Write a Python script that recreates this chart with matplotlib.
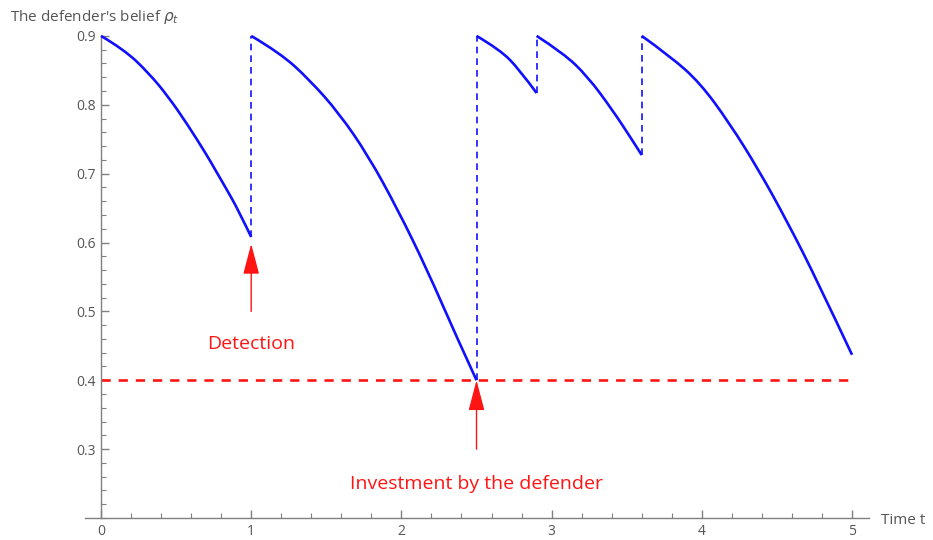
import matplotlib
matplotlib.use("Agg")
import matplotlib.pyplot as plt
from matplotlib.path import Path
from matplotlib.patches import PathPatch
from matplotlib.ticker import MultipleLocator

# Belief trajectory, one list per segment between resets
seg1_t = [0.0, 0.155, 0.318, 0.447, 0.577, 0.707, 0.770, 0.837, 0.914, 1.0]
seg1_v = [0.900, 0.880, 0.846, 0.812, 0.771, 0.726, 0.702, 0.677, 0.647, 0.608]

seg2_t = [1.0, 1.194, 1.389, 1.584, 1.779, 1.973, 2.168, 2.363, 2.5]
seg2_v = [0.900, 0.875, 0.836, 0.788, 0.726, 0.649, 0.562, 0.465, 0.400]

seg3_t = [2.5, 2.656, 2.786, 2.9]
seg3_v = [0.900, 0.880, 0.851, 0.817]

seg4_t = [2.9, 3.078, 3.240, 3.403, 3.533, 3.6]
seg4_v = [0.900, 0.875, 0.841, 0.793, 0.750, 0.727]

seg5_t = [3.6, 3.792, 3.987, 4.182, 4.377, 4.572, 4.767, 5.0]
seg5_v = [0.900, 0.870, 0.832, 0.774, 0.706, 0.629, 0.545, 0.437]

segments = [(seg1_t, seg1_v), (seg2_t, seg2_v), (seg3_t, seg3_v),
            (seg4_t, seg4_v), (seg5_t, seg5_v)]

reset_level = 0.9
threshold = 0.4
t_end = 5.0

detection_time = 1.0
investment_time = 2.5

x_ticks = [0, 1, 2, 3, 4, 5]
y_ticks = [0.3, 0.4, 0.5, 0.6, 0.7, 0.8, 0.9]

plt.rcParams["font.family"] = ["Open Sans", "DejaVu Sans"]

fig = plt.figure(figsize=(9.33, 5.40), dpi=100)
ax = fig.add_axes([85 / 933, 22 / 540, 784 / 933, 489 / 540])

blue = "#1010ff"
red = "#ff1414"
axis_gray = "#808080"
label_gray = "#555555"


def smooth_path(ts, vs):
    """Quadratic B-spline path through the segment's sample points."""
    pts = list(zip(ts, vs))
    if len(pts) < 3:
        return Path(pts)
    verts = [pts[0]]
    codes = [Path.MOVETO]
    for i in range(1, len(pts) - 1):
        end = pts[i + 1] if i == len(pts) - 2 else (
            (pts[i][0] + pts[i + 1][0]) / 2, (pts[i][1] + pts[i + 1][1]) / 2)
        verts += [pts[i], end]
        codes += [Path.CURVE3, Path.CURVE3]
    return Path(verts, codes)


# Belief curve
for ts, vs in segments:
    ax.add_patch(PathPatch(smooth_path(ts, vs), facecolor="none",
                           edgecolor=blue, lw=1.9, capstyle="butt",
                           zorder=3))

# Jumps back to the reset level
for ts, vs in segments[:-1]:
    ax.plot([ts[-1], ts[-1]], [vs[-1], reset_level], color=blue, lw=1.2,
            ls=(0, (4, 3)), zorder=2)

# Investment threshold
ax.plot([0, t_end], [threshold, threshold], color=red, lw=1.9,
        ls=(0, (3.5, 3)), zorder=2)

# Annotations
arrow_kw = dict(arrowstyle="-|>,head_length=1.9,head_width=0.5",
                color=red, lw=1.0, shrinkA=0, shrinkB=0)
ax.annotate("", xy=(detection_time, 0.598),
            xytext=(detection_time, 0.50), arrowprops=arrow_kw, zorder=4)
ax.text(detection_time, 0.452, "Detection", color=red, fontsize=14,
        ha="center", va="center")

ax.annotate("", xy=(investment_time, threshold),
            xytext=(investment_time, 0.30), arrowprops=arrow_kw, zorder=4)
ax.text(investment_time, 0.250, "Investment by the defender", color=red,
        fontsize=14, ha="center", va="center")

# Axes crossing at (0, 0.2)
for side in ("top", "right"):
    ax.spines[side].set_visible(False)
ax.spines["left"].set_position(("data", 0))
ax.spines["left"].set_bounds(0.2, 0.9)
ax.spines["bottom"].set_position(("data", 0.2))
for side in ("left", "bottom"):
    ax.spines[side].set_color(axis_gray)
    ax.spines[side].set_linewidth(1.0)

ax.set_xticks(x_ticks)
ax.set_xticklabels([str(v) for v in x_ticks])
ax.set_yticks(y_ticks)
ax.set_yticklabels([f"{v:.1f}" for v in y_ticks])
ax.xaxis.set_minor_locator(MultipleLocator(0.2))
ax.yaxis.set_minor_locator(MultipleLocator(0.02))
ax.tick_params(which="major", direction="in", length=6, width=1.0,
               color=axis_gray, labelcolor=label_gray, labelsize=10, pad=4)
ax.tick_params(which="minor", direction="in", length=3.5, width=0.8,
               color=axis_gray)
ax.set_xlim(-0.1065, 5.113)
ax.set_ylim(0.2, 0.91)

fig.text(10 / 933, 1 - 17 / 540, r"The defender's belief $\rho_t$",
         color=label_gray, fontsize=11, ha="left", va="center")
fig.text(881 / 933, 1 - 520 / 540, "Time t", color=label_gray,
         fontsize=11, ha="left", va="center")

fig.savefig("out.png", dpi=100)
